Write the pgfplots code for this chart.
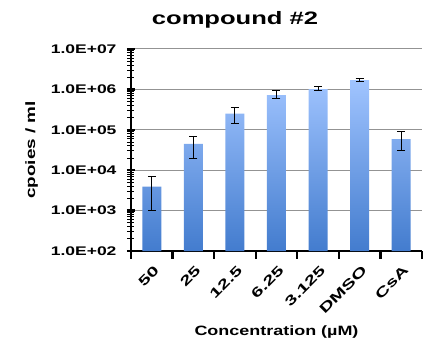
\documentclass[border=0pt]{standalone}
\usepackage{pgfplots}
\pgfplotsset{compat=1.18}
\usepackage{pgfplotstable}
\usepackage{graphicx}
\usepackage{fontspec}
\setmainfont{Liberation Sans}
\newcommand\wide[2][1.4]{\scalebox{#1}[1]{#2}}
\definecolor{bartop}{HTML}{A0C4FF}
\definecolor{barbot}{HTML}{437CCE}

% copies/ml with asymmetric error bars
\pgfplotstableread{
x y ep em
0 3900 3100 2900
1 45000 23000 25000
2 250000 110000 110000
3 720000 220000 140000
4 1020000 180000 80000
5 1700000 150000 100000
6 59000 34000 29000
}\copies

\begin{document}
\begin{tikzpicture}
\useasboundingbox (-131bp,-88bp) rectangle (297bp,251bp);
\begin{axis}[
    scale only axis,
    width=291bp, height=202bp,
    ymode=log, ymin=1e2, ymax=1e7, log origin=infty,
    xmin=-0.5, xmax=6.5,
    axis x line*=bottom, axis y line*=left,
    axis line style={black, line width=1.1bp, -},
    xtick={-0.5,0.5,...,6.5},
    x tick label as interval,
    xticklabels={\wide[1.5]{50},\wide[1.5]{25},\wide[1.5]{12.5},\wide[1.5]{6.25},\wide[1.5]{3.125},\wide[1.5]{DMSO},\wide[1.5]{CsA}},
    xticklabel style={rotate=45, anchor=north east, inner sep=0bp, font=\fontsize{13.5bp}{15bp}\bfseries, xshift=-3bp, yshift=-5bp},
    ytick={1e2,1e3,1e4,1e5,1e6,1e7},
    yticklabels={\wide{1.0E+02},\wide{1.0E+03},\wide{1.0E+04},\wide{1.0E+05},\wide{1.0E+06},\wide{1.0E+07}},
    yticklabel style={font=\fontsize{12.5bp}{14bp}\bfseries, xshift=-7bp},
    xtick align=outside, ytick align=center,
    major tick length=8bp, minor tick length=7bp,
    major tick style={black, line width=2.4bp},
    minor tick style={black, line width=0.9bp},
    ymajorgrids, major grid style={draw=gray!85, line width=1bp},
    xlabel={\wide[1.33]{Concentration (µM)}},
    ylabel={\wide[1.4]{cpoies / ml}},
    label style={font=\fontsize{13.5bp}{15bp}\bfseries},
    xlabel style={yshift=-8bp},
    ylabel style={yshift=6bp},
    clip=false,
]
\addplot[ybar, bar width=19bp, draw=none, top color=bartop, bottom color=barbot,
    error bars/.cd, y dir=both, y explicit,
    error bar style={black, line width=1bp, shade=false, fill=none},
    error mark options={rotate=90, mark size=4bp, black, line width=1bp}]
    table[x=x, y=y, y error plus=ep, y error minus=em] {\copies};
\end{axis}
\node[font=\fontsize{18bp}{20bp}\bfseries] at (104bp,231bp) {\wide[1.42]{compound \#2}};
\end{tikzpicture}
\end{document}
